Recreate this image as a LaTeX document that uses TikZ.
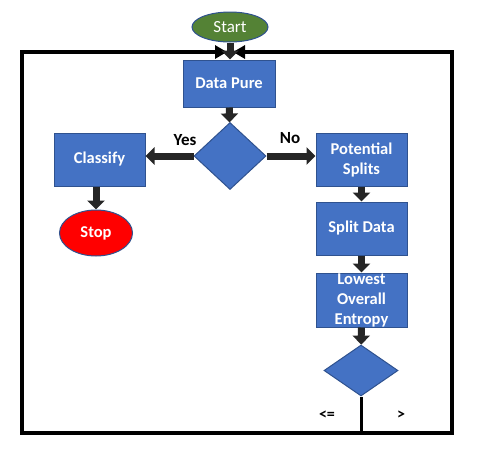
\documentclass[tikz,border=0pt]{standalone}
\usepackage{fontspec}
\setmainfont{Carlito}
\usetikzlibrary{arrows.meta,shapes.geometric}
\definecolor{boxblue}{HTML}{4472C4}
\definecolor{boxline}{HTML}{2F528F}
\definecolor{startgreen}{HTML}{548235}
\definecolor{arrowgray}{HTML}{262626}

\begin{document}
\begin{tikzpicture}[x=1pt, y=-1pt,
  every node/.style={font=\bfseries\fontsize{16.5}{20}\selectfont},
  box/.style={draw=boxline, line width=1pt, fill=boxblue, text=white, align=center,
    minimum width=91pt, minimum height=53pt, inner sep=0pt},
  decision/.style={diamond, draw=boxline, line width=1pt, fill=boxblue, inner sep=0pt,
    minimum width=72pt, minimum height=67pt},
  terminal/.style={ellipse, draw=boxline, line width=1pt, text=white, inner sep=0pt},
  flow/.style={draw=arrowgray, line width=7pt, -{Triangle[length=9pt,width=17pt]}},
  loopback/.style={draw=black, line width=3.5pt, -{Triangle[length=12pt,width=13pt]}},
  lbl/.style={text=black}]
  \useasboundingbox (0,0) rectangle (483,456);

  \node[terminal, fill=startgreen, minimum width=76pt, minimum height=30pt,
    font=\fontsize{17}{18}\selectfont] (start) at (230,27) {Start};
  \node[box, minimum width=92pt, minimum height=47pt] (pure) at (229,83.5) {Data Pure};
  \node[decision] (check) at (230,156) {};
  \node[box] (classify) at (99.5,159.5) {Classify};
  \node[terminal, fill=red, minimum width=73pt, minimum height=46pt] (stop) at (96,233) {Stop};
  \node[box] (potential) at (361.5,159.5) {Potential\\Splits};
  \node[box] (split) at (361.5,228.5) {Split Data};
  \node[box, minimum height=54pt] (lowest) at (361.5,300) {Lowest\\Overall\\Entropy};
  \node[decision, minimum width=74pt, minimum height=51pt] (best) at (361,370.5) {};

  \node[lbl, font=\bfseries\fontsize{17}{18}\selectfont] (yes) at (185,140) {Yes};
  \node[lbl, font=\bfseries\fontsize{17}{18}\selectfont] (no) at (290,138) {No};
  \node[lbl, font=\bfseries\fontsize{16}{18}\selectfont] (le) at (327,415) {<=};
  \node[lbl, font=\bfseries\fontsize{16}{18}\selectfont] (gt) at (401,415) {>};

  % loop back to the top
  \coordinate (foot) at (361,433);
  \coordinate (bl) at (22,433);
  \coordinate (tl) at (22,52);
  \coordinate (br) at (452,433);
  \coordinate (tr) at (452,52);
  \coordinate (meet-left) at (227,52);
  \coordinate (meet-right) at (233,52);
  \draw[line width=3pt] (best.south) -- (foot);
  \draw[loopback] (foot) -- (bl) -- (tl) -- (meet-left);
  \draw[loopback] (foot) -- (br) -- (tr) -- (meet-right);

  \draw[flow] (start.south) -- (start.south |- pure.north);
  \draw[flow] (pure) -- (check);
  \draw[flow] (check.west) -- (check.west -| classify.east);
  \draw[flow] (stop.north |- classify.south) -- (stop.north);
  \draw[flow] (check.east) -- (check.east -| potential.west);
  \draw[flow] (potential) -- (split);
  \draw[flow] (split) -- (lowest);
  \draw[flow] (lowest) -- (best);
\end{tikzpicture}
\end{document}
